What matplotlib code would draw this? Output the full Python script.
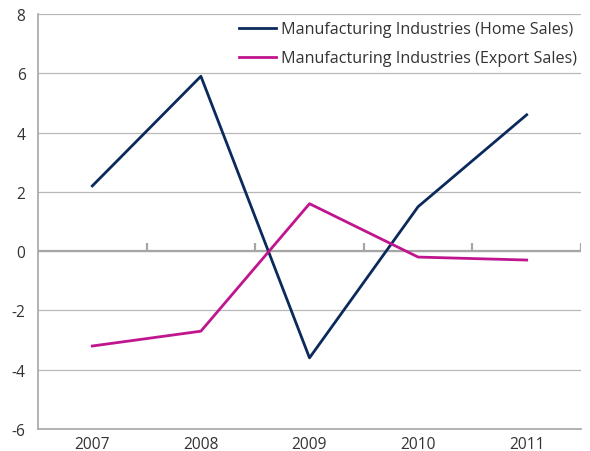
import matplotlib
matplotlib.use("Agg")
import matplotlib.pyplot as plt
import numpy as np

years = ["2007", "2008", "2009", "2010", "2011"]
home_sales = [2.2, 5.9, -3.6, 1.5, 4.6]
export_sales = [-3.2, -2.7, 1.6, -0.2, -0.3]
y_ticks = [-6, -4, -2, 0, 2, 4, 6, 8]

plt.rcParams['font.family'] = ['Open Sans', 'DejaVu Sans']

fig = plt.figure(figsize=(5.9, 4.52), dpi=100)
ax = fig.add_axes([38/590, 1 - 430/452, (581-38)/590, (430-15)/452])

gray = '#a6a6a6'
x = np.arange(len(years))
ax.set_xlim(-0.5, len(years) - 0.5)
ax.set_ylim(-6, 8)

for yv in y_ticks:
    ax.axhline(yv, color='#b8b8b8', lw=0.9, zorder=1)
ax.axhline(0, color=gray, lw=1.6, zorder=1)
bounds = np.arange(len(years)) + 0.5
ax.vlines(bounds, 0, 0.27, color=gray, lw=1.6, zorder=1)

ax.plot(x, home_sales, color='#0b2a5b', lw=2.0, label='Manufacturing Industries (Home Sales)', zorder=3)
ax.plot(x, export_sales, color='#c0158e', lw=2.0, label='Manufacturing Industries (Export Sales)', zorder=3)

ax.set_xticks(x)
ax.set_xticklabels(years)
ax.set_yticks(y_ticks)
ax.set_yticklabels([str(v) for v in y_ticks])
ax.tick_params(axis='both', length=0, labelsize=11.2, colors='#333333')
ax.tick_params(axis='x', pad=5)
ax.tick_params(axis='y', pad=9)
for s in ['top', 'right']:
    ax.spines[s].set_visible(False)
for s in ['left', 'bottom']:
    ax.spines[s].set_color(gray)
    ax.spines[s].set_linewidth(1.2)

leg = ax.legend(loc='upper right', frameon=False, fontsize=11.6, handlelength=2.3,
                handletextpad=0.35, borderaxespad=0.0, labelspacing=0.8,
                bbox_to_anchor=(1.005, 0.998))
for t in leg.get_texts():
    t.set_color('#333333')

fig.savefig('out.png', dpi=100)
